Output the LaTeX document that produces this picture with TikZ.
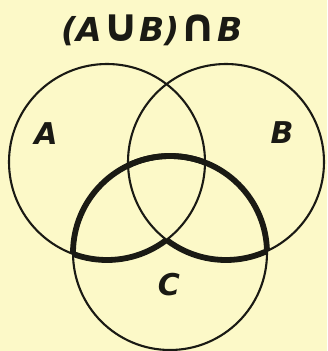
\documentclass[tikz,border=0pt]{standalone}
\usepackage{fontspec}
\setmainfont{DejaVu Sans}
\definecolor{paper}{HTML}{FCF9C8}
\definecolor{ink}{HTML}{1A1A14}
\newcommand{\bigsym}[1]{{\fontsize{46}{46}\selectfont #1}}
\tikzset{
  thinline/.style={draw=ink, line width=2.1pt},
  boldline/.style={draw=ink, line width=5.8pt},
  setlabel/.style={font=\fontsize{30}{30}\selectfont\bfseries\itshape, text=ink, inner sep=0pt},
  titlelabel/.style={font=\fontsize{33}{33}\selectfont\bfseries\itshape, text=ink, inner sep=0pt}
}
\begin{document}
\begin{tikzpicture}[x=1pt,y=1pt]
  \fill[paper] (0,0) rectangle (327,351);
  \useasboundingbox (0,0) rectangle (327,351);
  \coordinate (ca) at (107,189);
  \coordinate (cb) at (226,189);
  \coordinate (cc) at (170,98);
  \def\rr{98}
  \def\rc{97}
  % thin circles
  \draw[thinline] (ca) circle[radius=\rr];
  \draw[thinline] (cb) circle[radius=\rr];
  \draw[thinline] (cc) circle[radius=\rc];
  % bold boundary of (A u B) n C
  \begin{scope}
    \clip (ca) circle[radius=\rr];
    \draw[boldline] (cc) circle[radius=\rc];
  \end{scope}
  \begin{scope}
    \clip (cb) circle[radius=\rr];
    \draw[boldline] (cc) circle[radius=\rc];
  \end{scope}
  \begin{scope}
    \clip (cc) circle[radius=\rc];
    \begin{scope}[even odd rule]
      \clip (-10,-10) rectangle (340,360) (cb) circle[radius=\rr];
      \draw[boldline] (ca) circle[radius=\rr];
    \end{scope}
  \end{scope}
  \begin{scope}
    \clip (cc) circle[radius=\rc];
    \begin{scope}[even odd rule]
      \clip (-10,-10) rectangle (340,360) (ca) circle[radius=\rr];
      \draw[boldline] (cb) circle[radius=\rr];
    \end{scope}
  \end{scope}
  % labels
  \node[titlelabel, anchor=base] (title) at (152,309) {(A\bigsym{∪}B)\bigsym{∩}B};
  \node[setlabel] (la) at (46,217) {A};
  \node[setlabel] (lb) at (282,218) {B};
  \node[setlabel] (lc) at (169,66) {C};
\end{tikzpicture}
\end{document}
